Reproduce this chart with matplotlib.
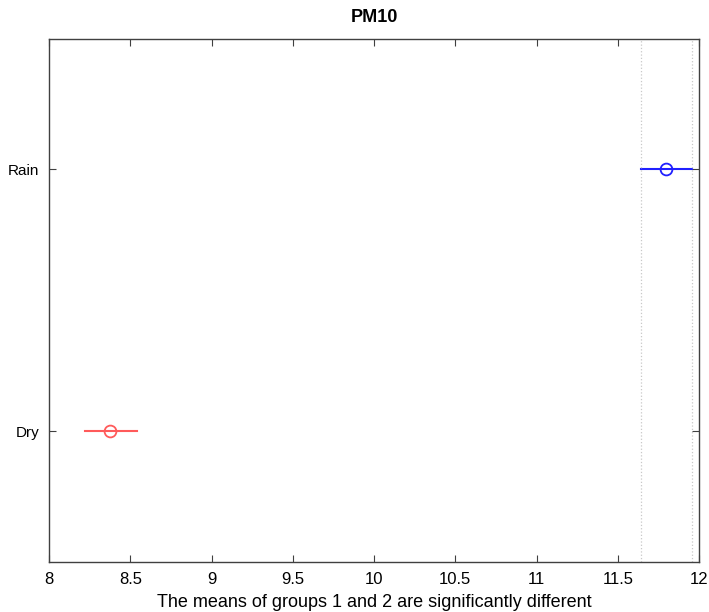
import matplotlib
matplotlib.use('Agg')
import matplotlib.pyplot as plt

# multcompare-style interval data
groups = ['Rain', 'Dry']
means = [11.795, 8.374]
lower = [11.643, 8.223]
upper = [11.955, 8.542]
colors_ = ['#2020ff', '#ff5a5a']
x_ticks = [8, 8.5, 9, 9.5, 10, 10.5, 11, 11.5, 12]
x_labels = ['8', '8.5', '9', '9.5', '10', '10.5', '11', '11.5', '12']

plt.rcParams['font.family'] = ['Liberation Sans', 'DejaVu Sans']

fig = plt.figure(figsize=(7.09, 6.12), dpi=100)
ax = fig.add_axes([49 / 709, 1 - 562 / 612, 650 / 709, (562 - 38.5) / 612])

ypos = [1, 2]
for y, m, lo, hi, c in zip(ypos, means, lower, upper, colors_):
    ax.plot([lo, hi], [y, y], color=c, lw=1.5)
    ax.plot(m, y, 'o', mfc='none', mec=c, ms=8.5, mew=1.3)

# dotted reference lines around selected group (Rain)
ax.axvline(lower[0], color='#c8c8c8', lw=0.9, ls=':')
ax.axvline(upper[0], color='#c8c8c8', lw=0.9, ls=':')

ax.set_xlim(8, 12)
ax.set_ylim(2.5, 0.5)
ax.set_xticks(x_ticks)
ax.set_xticklabels(x_labels)
ax.set_yticks(ypos)
ax.set_yticklabels(groups)
ax.tick_params(direction='in', top=True, right=True, length=5,
               color='#404040', width=0.8)
ax.tick_params(axis='x', labelsize=12, pad=7)
ax.tick_params(axis='y', labelsize=11, pad=7)
for s in ax.spines.values():
    s.set_color('#404040')
    s.set_linewidth(1.0)

ax.set_title('PM10', fontsize=13, fontweight='bold', pad=12)
ax.set_xlabel('The means of groups 1 and 2 are significantly different', fontsize=13, labelpad=5)

fig.savefig('out.png', dpi=100)
